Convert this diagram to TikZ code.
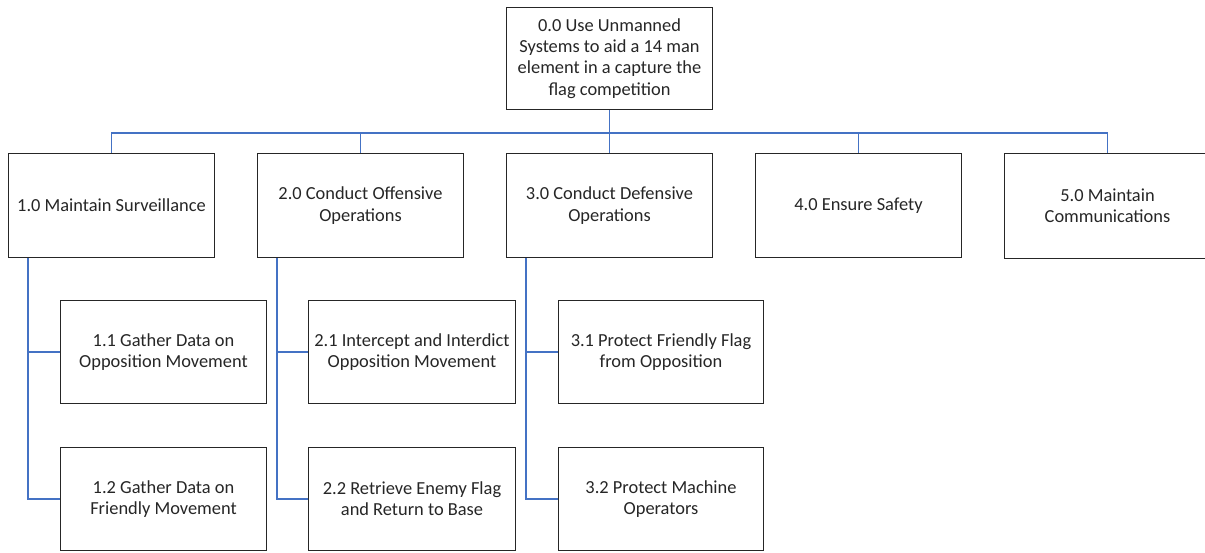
\documentclass[tikz,border=0pt]{standalone}
\usepackage{fontspec}
\setmainfont{Carlito}
\definecolor{conncol}{HTML}{4472C4}
\definecolor{boxcol}{HTML}{262626}
\definecolor{txtcol}{HTML}{262626}
\begin{document}
\begin{tikzpicture}[x=1pt,y=-1pt,
  box/.style={draw=boxcol,line width=1pt,rectangle,inner sep=0pt,anchor=north west,
    minimum width=206pt,minimum height=103pt,align=center,text=txtcol,
    font=\fontsize{18.4}{21.3}\selectfont},
  edgebox/.style={draw=boxcol,line width=1pt},
  conn/.style={draw=conncol,line width=1.2pt}]
\useasboundingbox[fill=white] (0,0) rectangle (1205,552);
\node[box,minimum height=102pt] (root) at (506,7) {0.0 Use Unmanned\\Systems to aid a 14 man\\element in a capture the\\flag competition};
\node[box,minimum height=104pt] (p1) at (8,153) {1.0 Maintain Surveillance};
\node[box,minimum height=104pt] (p2) at (257,153) {2.0 Conduct Offensive\\Operations};
\node[box,minimum height=104pt] (p3) at (506,153) {3.0 Conduct Defensive\\Operations};
\node[box,minimum height=104pt] (p4) at (755,153) {4.0 Ensure Safety};
\node[box,draw=none,minimum height=104pt] (p5) at (1004,153) {5.0 Maintain\\Communications};
\draw[edgebox] ([xshift=20pt]p5.north east) -- (p5.north west) -- (p5.south west) -- ([xshift=20pt]p5.south east);
\node[box] (c11) at (60,300) {1.1 Gather Data on\\Opposition Movement};
\node[box] (c12) at (60,447) {1.2 Gather Data on\\Friendly Movement};
\node[box,minimum width=207pt] (c21) at (308,300) {2.1 Intercept and Interdict\\Opposition Movement};
\node[box,minimum width=207pt] (c22) at (308,447) {2.2 Retrieve Enemy Flag\\and Return to Base};
\node[box,minimum width=205pt] (c31) at (558,300) {3.1 Protect Friendly Flag\\from Opposition};
\node[box,minimum width=205pt] (c32) at (558,447) {3.2 Protect Machine\\Operators};
\foreach \p in {p1,p2,p3,p4,p5}{
  \draw[conn] (root.south) -- ++(0,23) -| (\p.north);
}
\foreach \p/\a/\b in {p1/c11/c12,p2/c21/c22,p3/c31/c32}{
  \draw[conn] ([xshift=20pt]\p.south west) |- (\a.west);
  \draw[conn] ([xshift=20pt]\p.south west) |- (\b.west);
}
\end{tikzpicture}
\end{document}
